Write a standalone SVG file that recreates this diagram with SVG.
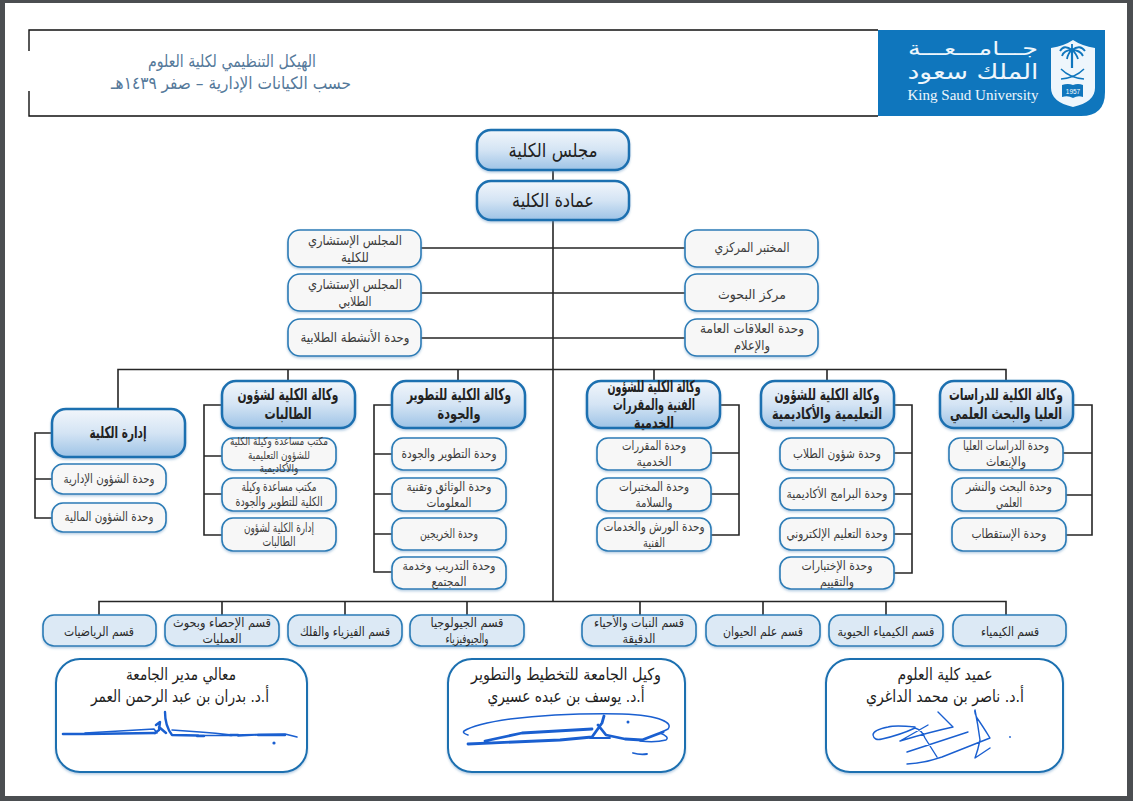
<svg xmlns="http://www.w3.org/2000/svg" width="1133" height="801" viewBox="0 0 1133 801">
<defs>
<linearGradient id="g" x1="0" y1="0" x2="0" y2="1"><stop offset="0" stop-color="#f2f6fb"/><stop offset="0.5" stop-color="#d4e4f4"/><stop offset="1" stop-color="#9dc3e6"/></linearGradient>
<filter id="s" x="-5%" y="-10%" width="110%" height="125%"><feDropShadow dx="0" dy="1.5" stdDeviation="1.2" flood-color="#5a8fbf" flood-opacity="0.45"/></filter>
</defs>
<style>
text{font-family:"DejaVu Sans",sans-serif;text-anchor:middle;direction:rtl}
.h rect{fill:url(#g);stroke:#1a6fb0;stroke-width:2.5;filter:url(#s)}
.h text{font-size:16px;font-weight:700;fill:#222}
.m rect{fill:#f7f7f7;stroke:#2c7bb6;stroke-width:1.6;filter:url(#s)}
.m text{font-size:12.500px;fill:#3c3c3c}
.l text{font-size:13.500px}
.d rect{fill:#dce9f5;stroke:#2c7bb6;stroke-width:1.6;filter:url(#s)}
.d text{font-size:12.500px;fill:#2a2a2a}
.sg rect{fill:#fff;stroke:#1a6fb0;stroke-width:2;filter:url(#s)}
.sg text{font-size:16.500px;fill:#1e1e1e}
.sig{fill:none;stroke:#1a5fd0;stroke-linecap:round;stroke-linejoin:round}
.c{fill:none;stroke:#262626;stroke-width:1.6}
.frame{fill:none;stroke:#111;stroke-width:1.4}
.title{font-size:17px;fill:#55799a}
.lg{fill:#eef6fc}
</style>
<rect width="1133" height="801" fill="#4b4e51"/>
<rect x="5" y="3" width="1122" height="793" fill="#fff"/>
<g id="header">
<path class="frame" d="M29 51V30H878M29 91V116H878"/>
<text class="title" x="232" y="67" textLength="168" lengthAdjust="spacingAndGlyphs">الهيكل التنظيمي لكلية العلوم</text>
<text class="title" x="231" y="89" textLength="240" lengthAdjust="spacingAndGlyphs">حسب الكيانات الإدارية – صفر ١٤٣٩هـ</text>
</g>
<g id="logo">
<path d="M878 30H1105V92Q1105 116 1081 116H878Z" fill="#0f76bd"/>
<path class="lg" d="M1051 48Q1064 46 1073 40Q1082 46 1095 48V88Q1095 102 1073 107Q1051 102 1051 88Z" fill="#fff"/>
<path d="M1072 50V68" fill="none" stroke="#0f76bd" stroke-width="2.200"/>
<path d="M1072 50Q1064 44 1060 51M1072 50Q1080 44 1085 51M1072 50Q1064 50 1062 56M1072 50Q1080 50 1083 56M1072 50Q1068 53 1067 59M1072 50Q1076 53 1078 59M1072 50V44" fill="none" stroke="#0f76bd" stroke-width="1.800"/>
<path d="M1061 69Q1070 78 1084 79M1084 69Q1075 78 1061 79" fill="none" stroke="#0f76bd" stroke-width="1.500"/>
<path d="M1062 85Q1068 83 1073 85Q1078 83 1083 85V97Q1078 95 1073 98Q1068 95 1062 97Z" fill="#0f76bd"/>
<text x="1073" y="93.500" style="font-size:6.500px;font-family:'Liberation Sans',sans-serif;direction:ltr" fill="#fff">1957</text>
<text class="lg" x="973" y="55" style="font-size:19px" textLength="130" lengthAdjust="spacingAndGlyphs">جـــامـــعـــة</text>
<text class="lg" x="973" y="79" style="font-size:21px" textLength="131" lengthAdjust="spacingAndGlyphs">الملك سعود</text>
<text class="lg" x="973" y="100" style="font-size:14px;font-family:'Liberation Serif',serif;direction:ltr" textLength="131" lengthAdjust="spacingAndGlyphs">King Saud University</text>
</g>
<g id="connectors">
<path class="c" d="M553 170V601M421 248H685M421 293H685M421 338H685"/>
<path class="c" d="M118 409V369.500H1006V381M288 369.500V381M458 369.500V381M654 369.500V381M827 369.500V381"/>
<path class="c" d="M52 433H35V518H52M35 479H52"/>
<path class="c" d="M222 405H204V535H222M204 456H222M204 494H222"/>
<path class="c" d="M392 405H374V572H392M374 454H392M374 494H392M374 534H392"/>
<path class="c" d="M720 405H739V535H710M739 453H710M739 494H710"/>
<path class="c" d="M894 405H912V573H894M912 453H894M912 494H894M912 534H894"/>
<path class="c" d="M1073 405H1092V535H1066M1092 453H1063M1092 495H1066"/>
<path class="c" d="M99 615V601.500H1006V615M222 601.500V615M345 601.500V615M467 601.500V615M640 601.500V615M763 601.500V615M886 601.500V615"/>
</g>
<g id="n-council" class="h"><rect x="477" y="130" width="152" height="40" rx="14"/><text x="553" y="157" style="font-size:19px;font-weight:400" textLength="89" lengthAdjust="spacingAndGlyphs">مجلس الكلية</text></g>
<g id="n-deanship" class="h"><rect x="477" y="181" width="152" height="39" rx="14"/><text x="553" y="207" style="font-size:19px;font-weight:400" textLength="82" lengthAdjust="spacingAndGlyphs">عمادة الكلية</text></g>
<g id="n-advisory" class="m l"><rect x="288" y="230" width="133" height="37" rx="12"/><text x="355" y="245" textLength="94" lengthAdjust="spacingAndGlyphs">المجلس الإستشاري</text><text x="355" y="262" textLength="28" lengthAdjust="spacingAndGlyphs">للكلية</text></g>
<g id="n-student-advisory" class="m l"><rect x="288" y="274" width="133" height="37" rx="12"/><text x="355" y="289" textLength="94" lengthAdjust="spacingAndGlyphs">المجلس الإستشاري</text><text x="355" y="306" textLength="33" lengthAdjust="spacingAndGlyphs">الطلابي</text></g>
<g id="n-activities" class="m l"><rect x="288" y="319" width="133" height="37" rx="12"/><text x="355" y="342" textLength="109" lengthAdjust="spacingAndGlyphs">وحدة الأنشطة الطلابية</text></g>
<g id="n-lab" class="m l"><rect x="685" y="230" width="133" height="37" rx="12"/><text x="752" y="252" textLength="75" lengthAdjust="spacingAndGlyphs">المختبر المركزي</text></g>
<g id="n-research" class="m l"><rect x="685" y="274" width="133" height="37" rx="12"/><text x="752" y="299" textLength="68" lengthAdjust="spacingAndGlyphs">مركز البحوث</text></g>
<g id="n-pr" class="m l"><rect x="685" y="319" width="133" height="37" rx="12"/><text x="752" y="333" textLength="104" lengthAdjust="spacingAndGlyphs">وحدة العلاقات العامة</text><text x="752" y="350" textLength="36" lengthAdjust="spacingAndGlyphs">والإعلام</text></g>
<g id="n-admin" class="h"><rect x="52" y="409" width="133" height="48" rx="14"/><text x="118" y="438" textLength="57" lengthAdjust="spacingAndGlyphs">إدارة الكلية</text></g>
<g id="n-admin-1" class="m"><rect x="52" y="464" width="114" height="30" rx="11"/><text x="109" y="483" textLength="91" lengthAdjust="spacingAndGlyphs">وحدة الشؤون الإدارية</text></g>
<g id="n-admin-2" class="m"><rect x="52" y="503" width="114" height="29" rx="11"/><text x="109" y="521" textLength="89" lengthAdjust="spacingAndGlyphs">وحدة الشؤون المالية</text></g>
<g id="n-students" class="h"><rect x="222" y="381" width="133" height="47" rx="14"/><text x="288" y="400" textLength="101" lengthAdjust="spacingAndGlyphs">وكالة الكلية لشؤون</text><text x="288" y="419" textLength="47" lengthAdjust="spacingAndGlyphs">الطالبات</text></g>
<g id="n-students-1" class="m"><rect x="222" y="438" width="114" height="32" rx="11"/><text x="279" y="445" style="font-size:11px" textLength="98" lengthAdjust="spacingAndGlyphs">مكتب مساعدة وكيلة الكلية</text><text x="279" y="459" style="font-size:11px" textLength="62" lengthAdjust="spacingAndGlyphs">للشؤون التعليمية</text><text x="279" y="472" style="font-size:11px" textLength="39" lengthAdjust="spacingAndGlyphs">والأكاديمية</text></g>
<g id="n-students-2" class="m"><rect x="222" y="478" width="114" height="33" rx="11"/><text x="279" y="491" textLength="75" lengthAdjust="spacingAndGlyphs">مكتب مساعدة وكيلة</text><text x="279" y="506" textLength="87" lengthAdjust="spacingAndGlyphs">الكلية للتطوير والجودة</text></g>
<g id="n-students-3" class="m"><rect x="222" y="518" width="114" height="33" rx="11"/><text x="279" y="532" textLength="70" lengthAdjust="spacingAndGlyphs">إدارة الكلية لشؤون</text><text x="279" y="546" textLength="33" lengthAdjust="spacingAndGlyphs">الطالبات</text></g>
<g id="n-quality" class="h"><rect x="392" y="381" width="133" height="47" rx="14"/><text x="459" y="400" textLength="104" lengthAdjust="spacingAndGlyphs">وكالة الكلية للتطوير</text><text x="459" y="419" textLength="43" lengthAdjust="spacingAndGlyphs">والجودة</text></g>
<g id="n-quality-1" class="m"><rect x="392" y="438" width="114" height="32" rx="11"/><text x="449" y="458" textLength="95" lengthAdjust="spacingAndGlyphs">وحدة التطوير والجودة</text></g>
<g id="n-quality-2" class="m"><rect x="392" y="478" width="114" height="33" rx="11"/><text x="449" y="491" textLength="85" lengthAdjust="spacingAndGlyphs">وحدة الوثائق وتقنية</text><text x="449" y="507" textLength="45" lengthAdjust="spacingAndGlyphs">المعلومات</text></g>
<g id="n-quality-3" class="m"><rect x="392" y="518" width="114" height="32" rx="11"/><text x="449" y="538" textLength="58" lengthAdjust="spacingAndGlyphs">وحدة الخريجين</text></g>
<g id="n-quality-4" class="m"><rect x="392" y="557" width="114" height="32" rx="11"/><text x="449" y="570" textLength="93" lengthAdjust="spacingAndGlyphs">وحدة التدريب وخدمة</text><text x="449" y="586" textLength="35" lengthAdjust="spacingAndGlyphs">المجتمع</text></g>
<g id="n-tech" class="h"><rect x="587" y="381" width="133" height="47" rx="14"/><text x="654" y="392" textLength="93" lengthAdjust="spacingAndGlyphs">وكالة الكلية للشؤون</text><text x="654" y="410" textLength="82" lengthAdjust="spacingAndGlyphs">الفنية والمقررات</text><text x="654" y="428" textLength="40" lengthAdjust="spacingAndGlyphs">الخدمية</text></g>
<g id="n-tech-1" class="m"><rect x="597" y="438" width="114" height="32" rx="11"/><text x="654" y="450" textLength="64" lengthAdjust="spacingAndGlyphs">وحدة المقررات</text><text x="654" y="466" textLength="35" lengthAdjust="spacingAndGlyphs">الخدمية</text></g>
<g id="n-tech-2" class="m"><rect x="597" y="478" width="114" height="33" rx="11"/><text x="654" y="491" textLength="70" lengthAdjust="spacingAndGlyphs">وحدة المختبرات</text><text x="654" y="507" textLength="37" lengthAdjust="spacingAndGlyphs">والسلامة</text></g>
<g id="n-tech-3" class="m"><rect x="597" y="518" width="114" height="33" rx="11"/><text x="654" y="531" textLength="101" lengthAdjust="spacingAndGlyphs">وحدة الورش والخدمات</text><text x="654" y="547" textLength="22" lengthAdjust="spacingAndGlyphs">الفنية</text></g>
<g id="n-academic" class="h"><rect x="761" y="381" width="133" height="47" rx="14"/><text x="827" y="400" textLength="105" lengthAdjust="spacingAndGlyphs">وكالة الكلية للشؤون</text><text x="827" y="419" textLength="110" lengthAdjust="spacingAndGlyphs">التعليمية والأكاديمية</text></g>
<g id="n-academic-1" class="m"><rect x="780" y="438" width="114" height="32" rx="11"/><text x="837" y="458" textLength="88" lengthAdjust="spacingAndGlyphs">وحدة شؤون الطلاب</text></g>
<g id="n-academic-2" class="m"><rect x="780" y="478" width="114" height="32" rx="11"/><text x="837" y="498" textLength="101" lengthAdjust="spacingAndGlyphs">وحدة البرامج الأكاديمية</text></g>
<g id="n-academic-3" class="m"><rect x="780" y="518" width="114" height="32" rx="11"/><text x="837" y="538" textLength="101" lengthAdjust="spacingAndGlyphs">وحدة التعليم الإلكتروني</text></g>
<g id="n-academic-4" class="m"><rect x="780" y="557" width="114" height="32" rx="11"/><text x="837" y="570" textLength="71" lengthAdjust="spacingAndGlyphs">وحدة الإختبارات</text><text x="837" y="586" textLength="34" lengthAdjust="spacingAndGlyphs">والتقييم</text></g>
<g id="n-graduate" class="h"><rect x="940" y="381" width="133" height="47" rx="14"/><text x="1006" y="400" textLength="114" lengthAdjust="spacingAndGlyphs">وكالة الكلية للدراسات</text><text x="1006" y="419" textLength="112" lengthAdjust="spacingAndGlyphs">العليا والبحث العلمي</text></g>
<g id="n-graduate-1" class="m"><rect x="949" y="438" width="114" height="32" rx="11"/><text x="1006" y="450" textLength="86" lengthAdjust="spacingAndGlyphs">وحدة الدراسات العليا</text><text x="1006" y="466" textLength="40" lengthAdjust="spacingAndGlyphs">والإبتعاث</text></g>
<g id="n-graduate-2" class="m"><rect x="952" y="478" width="114" height="33" rx="11"/><text x="1009" y="491" textLength="86" lengthAdjust="spacingAndGlyphs">وحدة البحث والنشر</text><text x="1009" y="507" textLength="26" lengthAdjust="spacingAndGlyphs">العلمي</text></g>
<g id="n-graduate-3" class="m"><rect x="952" y="518" width="114" height="33" rx="11"/><text x="1009" y="538" textLength="75" lengthAdjust="spacingAndGlyphs">وحدة الإستقطاب</text></g>
<g id="n-math" class="d"><rect x="43" y="615" width="113" height="31" rx="11"/><text x="99" y="636" textLength="70" lengthAdjust="spacingAndGlyphs">قسم الرياضيات</text></g>
<g id="n-stat" class="d"><rect x="165" y="615" width="114" height="31" rx="11"/><text x="222" y="627" textLength="98" lengthAdjust="spacingAndGlyphs">قسم الإحصاء وبحوث</text><text x="222" y="643" textLength="39" lengthAdjust="spacingAndGlyphs">العمليات</text></g>
<g id="n-phys" class="d"><rect x="288" y="615" width="114" height="31" rx="11"/><text x="345" y="636" textLength="90" lengthAdjust="spacingAndGlyphs">قسم الفيزياء والفلك</text></g>
<g id="n-geo" class="d"><rect x="410" y="615" width="114" height="31" rx="11"/><text x="467" y="627" textLength="73" lengthAdjust="spacingAndGlyphs">قسم الجيولوجيا</text><text x="467" y="643" textLength="43" lengthAdjust="spacingAndGlyphs">والجيوفيزياء</text></g>
<g id="n-bot" class="d"><rect x="582" y="615" width="114" height="31" rx="11"/><text x="639" y="627" textLength="90" lengthAdjust="spacingAndGlyphs">قسم النبات والأحياء</text><text x="639" y="643" textLength="33" lengthAdjust="spacingAndGlyphs">الدقيقة</text></g>
<g id="n-zoo" class="d"><rect x="706" y="615" width="114" height="31" rx="11"/><text x="763" y="636" textLength="80" lengthAdjust="spacingAndGlyphs">قسم علم الحيوان</text></g>
<g id="n-biochem" class="d"><rect x="829" y="615" width="114" height="31" rx="11"/><text x="886" y="636" textLength="97" lengthAdjust="spacingAndGlyphs">قسم الكيمياء الحيوية</text></g>
<g id="n-chem" class="d"><rect x="953" y="615" width="113" height="31" rx="11"/><text x="1010" y="636" textLength="58" lengthAdjust="spacingAndGlyphs">قسم الكيمياء</text></g>
<g id="sign-president" class="sg"><rect x="56" y="659" width="251" height="113" rx="24"/><text x="181" y="680" textLength="110" lengthAdjust="spacingAndGlyphs">معالي مدير الجامعة</text><text x="180" y="702" textLength="178" lengthAdjust="spacingAndGlyphs">أ.د. بدران بن عبد الرحمن العمر</text>
<path class="sig" stroke-width="2.600" d="M63 734H85L155 733"/>
<path class="sig" stroke-width="1.500" d="M85 733L154 729L157 733M172 730L200 732Q215 733 232 735L285 734L297 737M198 735.500L232 735.500M238 736L258 735"/>
<path class="sig" stroke-width="2.400" d="M165 712Q165 726 172 735L198 735.500M156 725L160 722L159 730L155 733M159 727L166 733M197 736H204M230 735H238M258 735H285"/>
<circle cx="274" cy="743" r="1.600" fill="#1a5fd0"/>
</g>
<g id="sign-vice" class="sg"><rect x="448" y="659" width="237" height="113" rx="24"/><text x="566" y="680" textLength="190" lengthAdjust="spacingAndGlyphs">وكيل الجامعة للتخطيط والتطوير</text><text x="566" y="702" textLength="157" lengthAdjust="spacingAndGlyphs">أ.د. يوسف بن عبده عسيري</text>
<path class="sig" stroke-width="1.500" d="M468 735Q462 733 464 731Q475 724 510 719Q560 713 622 714Q650 715 662 720Q672 724 668 729L660 733Q670 737 666 740Q655 743 640 741"/>
<path class="sig" stroke-width="2.800" d="M468 744L560 740L592 737M485 741L522 733L592 729M592 737L602 723L604 716M598 725L606 735L625 739L642 740L655 735L663 732"/>
<path class="sig" stroke-width="1.800" d="M633 753Q640 755 647 754M590 738H610"/>
<circle cx="628" cy="722" r="1.500" fill="#1a5fd0"/>
</g>
<g id="sign-dean" class="sg"><rect x="826" y="659" width="237" height="113" rx="24"/><text x="945" y="680" textLength="95" lengthAdjust="spacingAndGlyphs">عميد كلية العلوم</text><text x="945" y="702" textLength="158" lengthAdjust="spacingAndGlyphs">أ.د. ناصر بن محمد الداغري</text>
<path class="sig" stroke-width="1.400" d="M915 727Q895 725 888 727Q873 730 873 735Q874 741 882 739Q900 735 915 728Q922 730 925 738L937 757M900 741L928 725M900 741Q930 732 953 727L938 712M907 752L968 732M907 764Q925 763 942 757L990 738Q982 725 977 718Q974 712 975 710Q978 725 980 740Q978 750 975 758L990 748"/>
<circle cx="1010" cy="737" r="0.900" fill="#1a5fd0"/>
</g>
</svg>
